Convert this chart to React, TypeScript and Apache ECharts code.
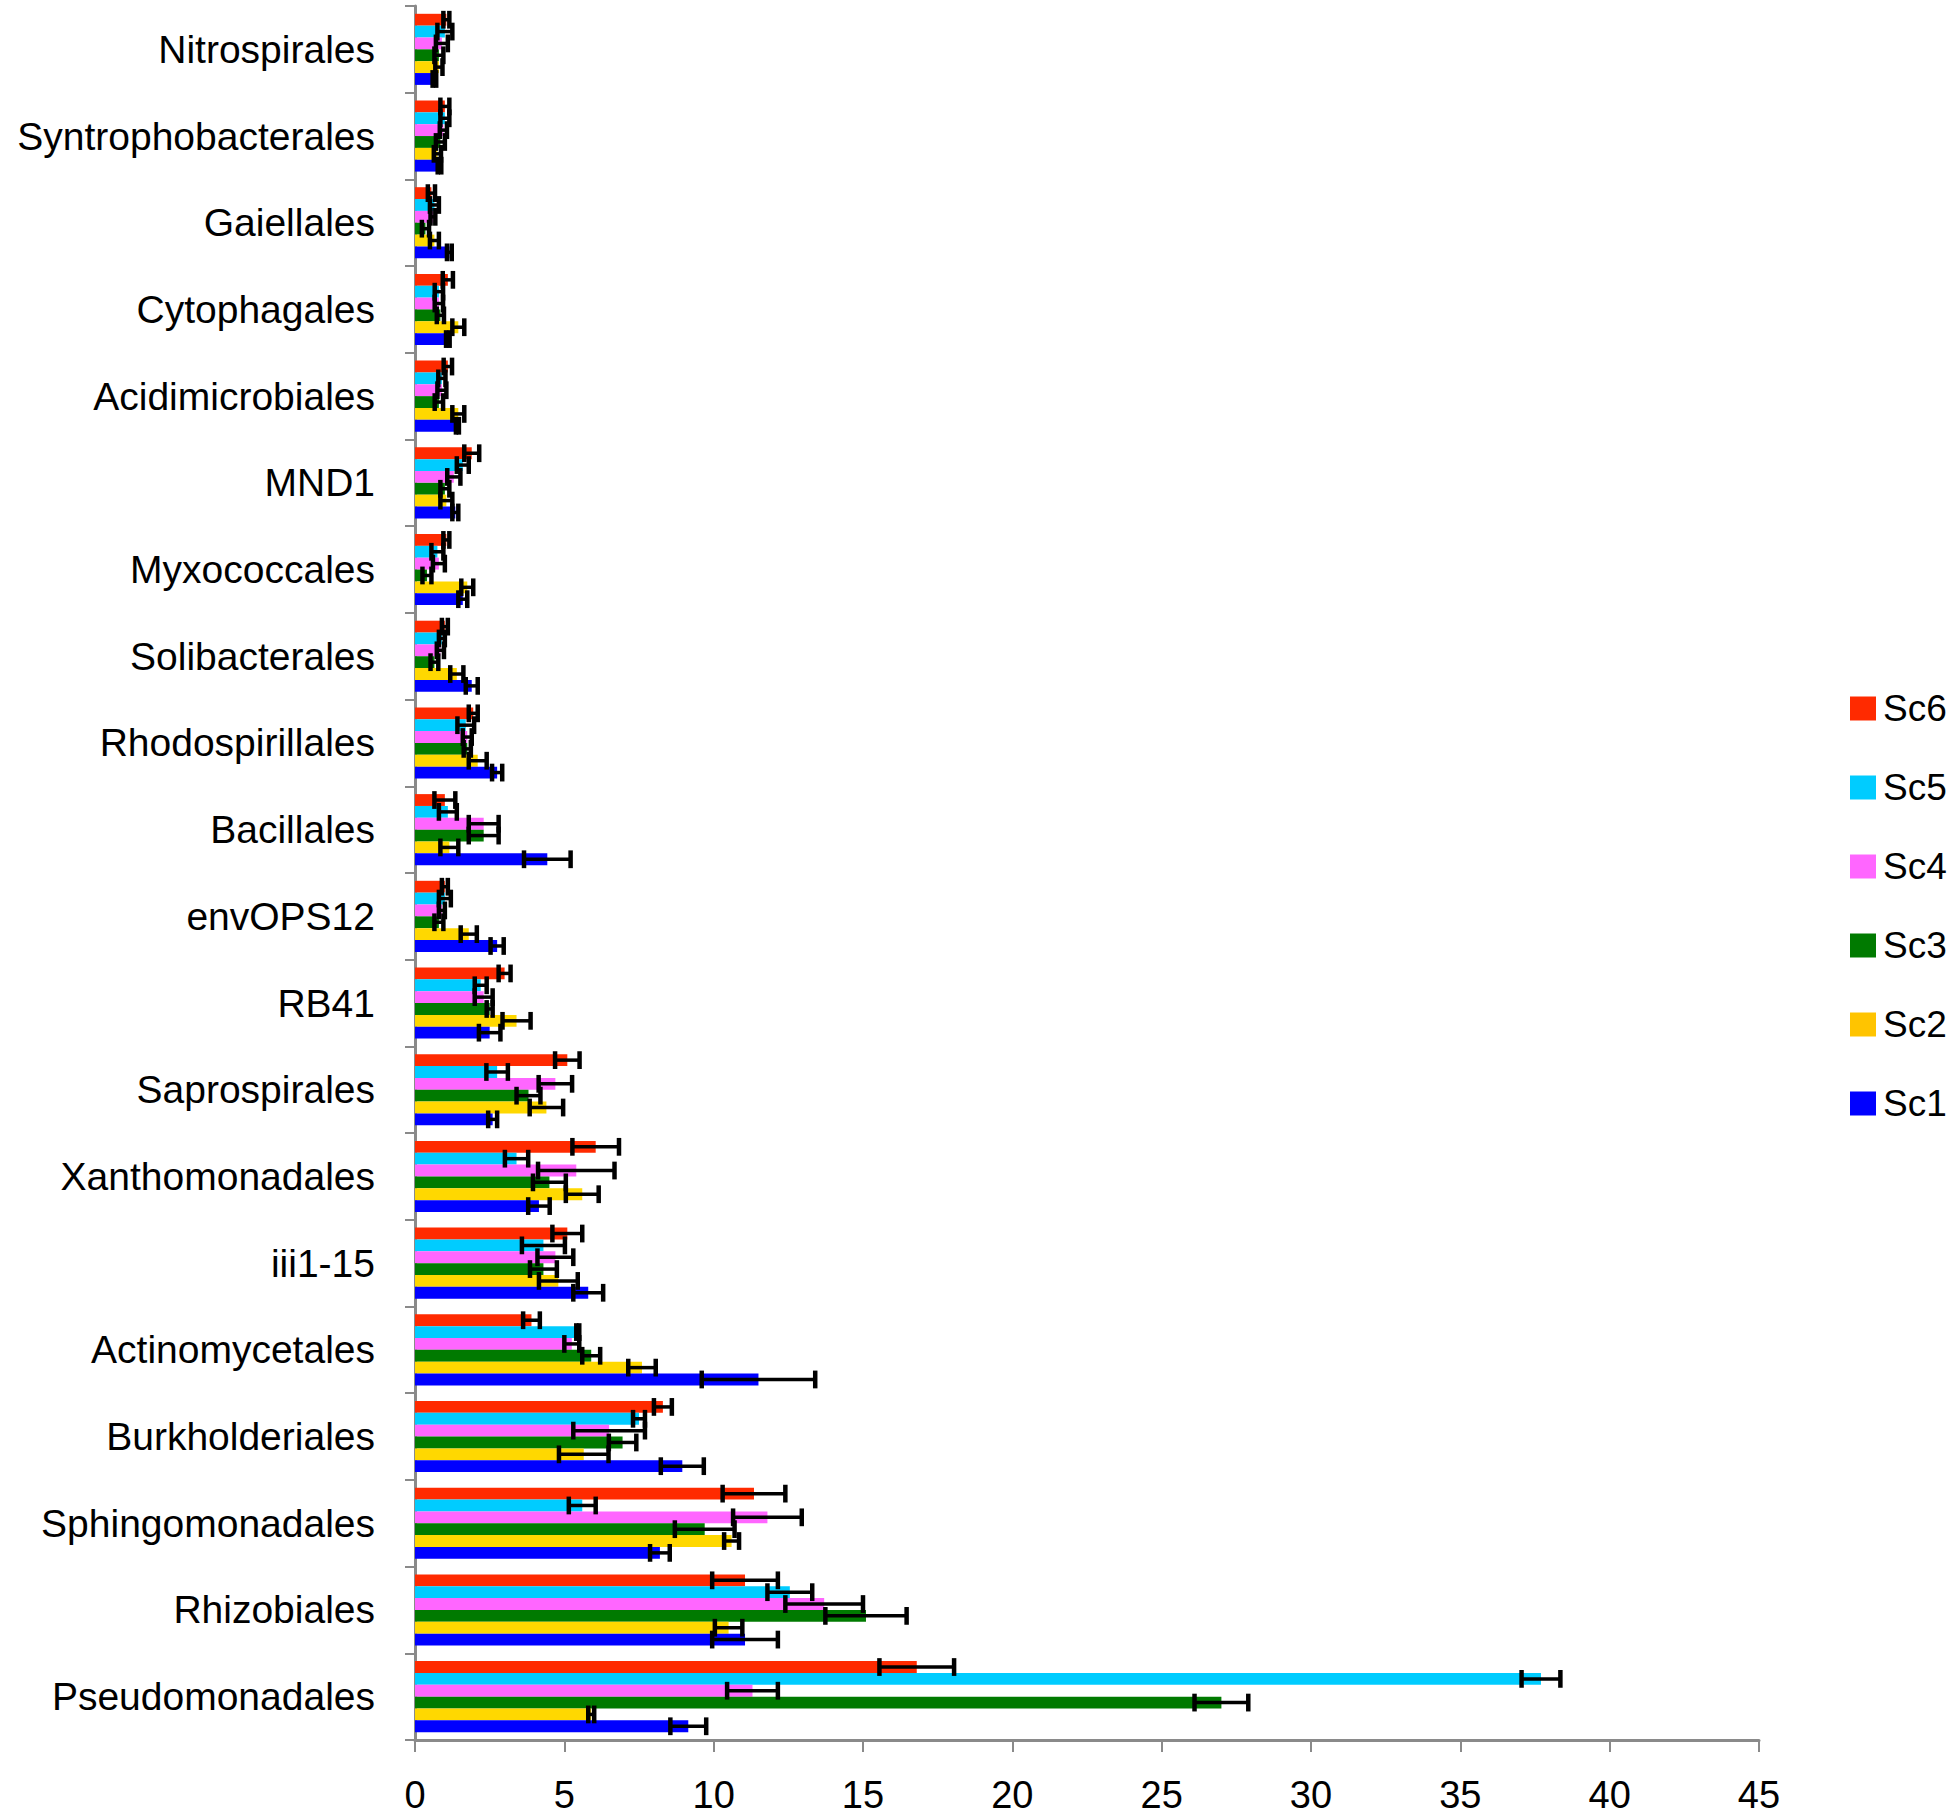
import React, { useEffect, useRef } from "react";
import * as echarts from "echarts";

const categories = [
  "Nitrospirales", "Syntrophobacterales", "Gaiellales", "Cytophagales", "Acidimicrobiales",
  "MND1", "Myxococcales", "Solibacterales", "Rhodospirillales", "Bacillales",
  "envOPS12", "RB41", "Saprospirales", "Xanthomonadales", "iii1-15",
  "Actinomycetales", "Burkholderiales", "Sphingomonadales", "Rhizobiales", "Pseudomonadales",
];

const xTicks = [0, 5, 10, 15, 20, 25, 30, 35, 40, 45];

const seriesNames = ["Sc6", "Sc5", "Sc4", "Sc3", "Sc2", "Sc1"];
const colors = ["#FF2A00", "#00CCFF", "#FF66FF", "#007A00", "#FFD800", "#0000FF"];
const legendColors = ["#FF2A00", "#00CCFF", "#FF66FF", "#007A00", "#FFC400", "#0000FF"];

const sc6 = [1.05, 1.0, 0.55, 1.1, 1.1, 1.9, 1.05, 1.0, 1.95, 1.0, 1.0, 3.0, 5.1, 6.05, 5.1, 3.9, 8.3, 11.35, 11.05, 16.8];
const sc6Err = [0.1, 0.15, 0.12, 0.17, 0.14, 0.25, 0.1, 0.1, 0.15, 0.35, 0.1, 0.2, 0.41, 0.78, 0.5, 0.28, 0.3, 1.05, 1.1, 1.25];

const sc5 = [1.0, 1.0, 0.65, 0.8, 0.9, 1.6, 0.75, 0.9, 1.7, 1.1, 1.0, 2.2, 2.75, 3.4, 4.3, 5.45, 7.5, 5.6, 12.55, 37.7];
const sc5Err = [0.25, 0.15, 0.15, 0.14, 0.12, 0.2, 0.2, 0.1, 0.28, 0.3, 0.2, 0.2, 0.36, 0.39, 0.72, 0.05, 0.2, 0.45, 0.75, 0.65];

const sc4 = [0.9, 0.95, 0.6, 0.8, 0.9, 1.3, 0.8, 0.85, 1.75, 2.3, 0.9, 2.3, 4.7, 5.4, 4.7, 5.25, 6.5, 11.8, 13.7, 11.3];
const sc4Err = [0.2, 0.12, 0.08, 0.14, 0.15, 0.22, 0.2, 0.12, 0.15, 0.5, 0.1, 0.3, 0.56, 1.28, 0.6, 0.25, 1.2, 1.15, 1.3, 0.85];

const sc3 = [0.8, 0.85, 0.35, 0.85, 0.8, 1.0, 0.4, 0.65, 1.75, 2.3, 0.8, 2.5, 3.8, 4.5, 4.3, 5.9, 6.95, 9.7, 15.1, 27.0];
const sc3Err = [0.15, 0.15, 0.12, 0.12, 0.14, 0.15, 0.15, 0.13, 0.12, 0.5, 0.15, 0.1, 0.4, 0.55, 0.45, 0.3, 0.46, 1.0, 1.36, 0.9];

const sc2 = [0.8, 0.75, 0.65, 1.45, 1.45, 1.05, 1.75, 1.4, 2.1, 1.15, 1.8, 3.4, 4.4, 5.6, 4.8, 7.6, 5.65, 10.6, 10.5, 5.9];
const sc2Err = [0.12, 0.12, 0.15, 0.2, 0.2, 0.2, 0.2, 0.22, 0.3, 0.3, 0.27, 0.47, 0.56, 0.55, 0.65, 0.46, 0.83, 0.25, 0.46, 0.1];

const sc1 = [0.65, 0.82, 1.15, 1.1, 1.42, 1.35, 1.6, 1.9, 2.75, 4.43, 2.75, 2.5, 2.6, 4.15, 5.8, 11.5, 8.95, 8.2, 11.05, 9.15];
const sc1Err = [0.06, 0.06, 0.08, 0.06, 0.05, 0.1, 0.15, 0.2, 0.17, 0.78, 0.22, 0.36, 0.15, 0.36, 0.5, 1.9, 0.72, 0.33, 1.1, 0.6];

const FONT = "Liberation Sans";

export default function App() {
  const ref = useRef<HTMLDivElement>(null);

  useEffect(() => {
    document.body.style.margin = "0";
    const chart = echarts.init(ref.current as HTMLDivElement, null, { renderer: "svg" });
    const values = [sc6, sc5, sc4, sc3, sc2, sc1];
    const errs = [sc6Err, sc5Err, sc4Err, sc3Err, sc2Err, sc1Err];
    const GAP = 0.18;
    const N = seriesNames.length;

    const barSeries = seriesNames.map((name, k) => ({
      type: "bar",
      name,
      data: values[k],
      itemStyle: { color: colors[k] },
      barGap: "0%",
      barCategoryGap: "18%",
      z: 2,
    }));

    const errSeries = seriesNames.map((name, k) => ({
      type: "custom",
      name: name + " error",
      z: 5,
      silent: true,
      encode: { x: [1, 2], y: 0 },
      data: categories.map((_, i) => [i, values[k][i] - errs[k][i], values[k][i] + errs[k][i]]),
      renderItem: (params: any, api: any) => {
        const cat = api.value(0);
        const p1 = api.coord([api.value(1), cat]);
        const p2 = api.coord([api.value(2), cat]);
        const band = api.size([0, 1])[1];
        const total = band * (1 - GAP);
        const bw = total / N;
        const y = p1[1] - total / 2 + (k + 0.5) * bw;
        const half = bw * 0.75;
        const style = { stroke: "#000", lineWidth: 3.5 };
        const capStyle = { stroke: "#000", lineWidth: 4.5 };
        return {
          type: "group",
          children: [
            { type: "line", shape: { x1: p1[0], y1: y, x2: p2[0], y2: y }, style },
            { type: "line", shape: { x1: p1[0], y1: y - half, x2: p1[0], y2: y + half }, style: capStyle },
            { type: "line", shape: { x1: p2[0], y1: y - half, x2: p2[0], y2: y + half }, style: capStyle },
          ],
        };
      },
    }));

    chart.setOption({
      animation: false,
      backgroundColor: "#fff",
      grid: { left: 415, right: 197, top: 6, bottom: 80, containLabel: false },
      legend: {
        orient: "vertical",
        left: 1850,
        top: 690,
        icon: "rect",
        itemWidth: 26,
        itemHeight: 24,
        itemGap: 42,
        padding: 0,
        data: seriesNames.map((n, k) => ({ name: n, itemStyle: { color: legendColors[k] } })),
        textStyle: { fontFamily: FONT, fontSize: 37, color: "#000", padding: [0, 0, 0, 2] },
      },
      xAxis: {
        type: "value",
        min: xTicks[0],
        max: xTicks[xTicks.length - 1],
        interval: 5,
        splitLine: { show: false },
        axisLine: { show: true, lineStyle: { color: "#8a8a8a", width: 3 } },
        axisTick: { show: true, length: 12, lineStyle: { color: "#8a8a8a", width: 2 } },
        axisLabel: { fontFamily: FONT, fontSize: 38, color: "#000", margin: 36 },
      },
      yAxis: {
        type: "category",
        inverse: true,
        data: categories,
        axisLine: { show: true, lineStyle: { color: "#8a8a8a", width: 3 } },
        axisTick: { show: true, length: 10, lineStyle: { color: "#8a8a8a", width: 2 } },
        axisLabel: { fontFamily: FONT, fontSize: 39, color: "#000", margin: 40 },
      },
      series: [...barSeries, ...errSeries],
    });

    return () => chart.dispose();
  }, []);

  return <div ref={ref} style={{ width: 1956, height: 1820 }} />;
}
